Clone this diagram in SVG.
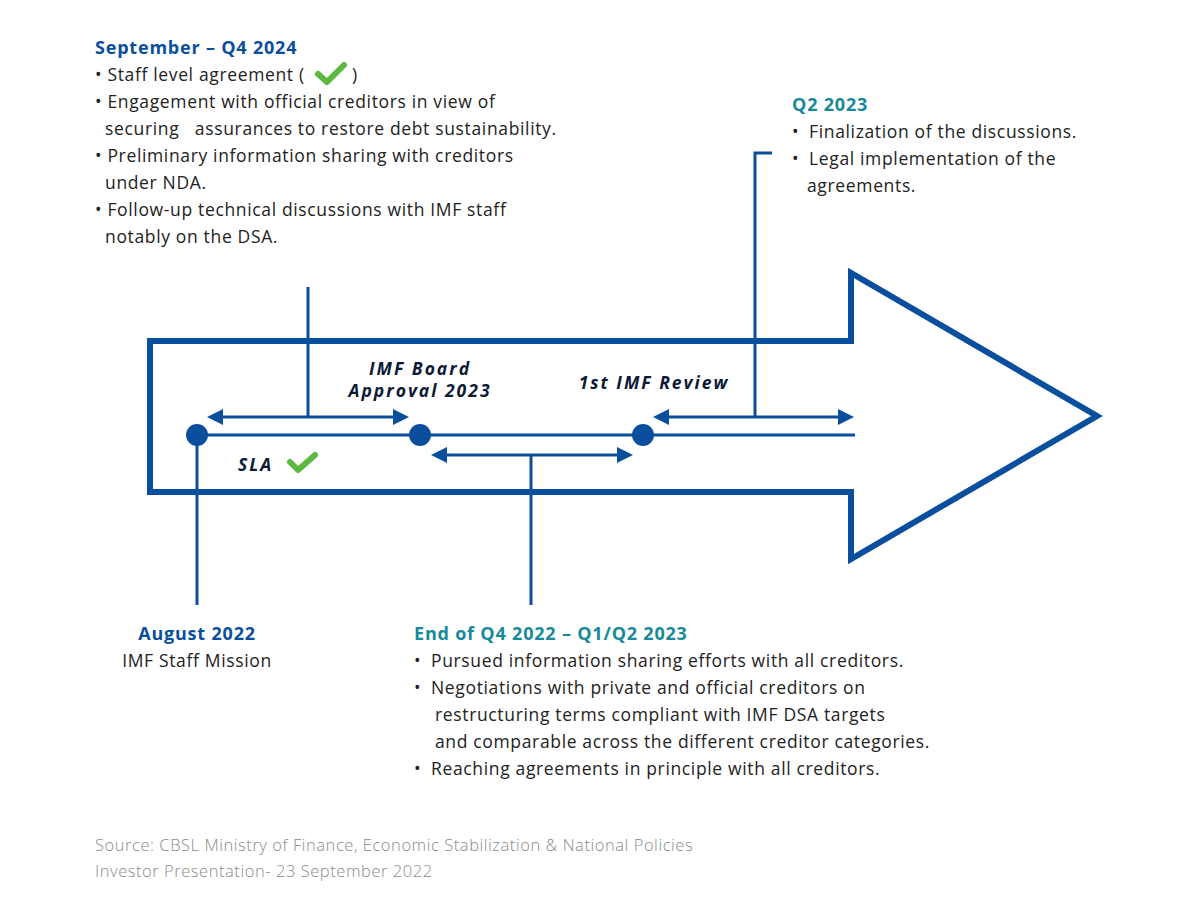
<svg xmlns="http://www.w3.org/2000/svg" width="1200" height="900" viewBox="0 0 1200 900">
<defs>
<style>
.bg{fill:#ffffff}
.ol{fill:none;stroke:#0a4f9e;stroke-width:6;stroke-linejoin:miter}
.ln{fill:none;stroke:#0a4f9e;stroke-width:3}
.dot{fill:#0a4f9e}
.ah{fill:#0a4f9e}
.chk{fill:none;stroke:#5db83f;stroke-width:6;stroke-linecap:round;stroke-linejoin:round}
.h1{font-family:"Open Sans","Liberation Sans",sans-serif;font-weight:700;font-size:18px;letter-spacing:0.8px;fill:#0a4f9e}
.h2{font-family:"Open Sans","Liberation Sans",sans-serif;font-weight:700;font-size:18px;letter-spacing:0.8px;fill:#168a9a}
.tx{font-family:"Open Sans","Liberation Sans",sans-serif;font-size:17.5px;letter-spacing:0.65px;fill:#222222}
.lb{font-family:"Open Sans","Liberation Sans",sans-serif;font-weight:700;font-style:italic;font-size:17.5px;letter-spacing:2px;fill:#0d1a36}
.src{font-family:"Open Sans","Liberation Sans",sans-serif;font-weight:300;font-size:16.5px;letter-spacing:0.55px;fill:#8a8a8a}
</style>
</defs>
<rect class="bg" x="0" y="0" width="1200" height="900"/>
<g id="big-arrow">
<path class="ol" d="M150,341 L851,341 L851,273 L1097,416 L851,559 L851,492 L150,492 Z"/>
</g>
<g id="connectors">
<line class="ln" x1="197" y1="435" x2="855" y2="435"/>
<line class="ln" x1="197" y1="435" x2="197" y2="605"/>
<line class="ln" x1="220" y1="417" x2="396" y2="417"/>
<line class="ln" x1="308" y1="287" x2="308" y2="417"/>
<polygon class="ah" points="207,417 223,409 223,425"/>
<polygon class="ah" points="409,417 393,409 393,425"/>
<line class="ln" x1="444" y1="455" x2="620" y2="455"/>
<line class="ln" x1="531" y1="455" x2="531" y2="605"/>
<polygon class="ah" points="431,455 447,447 447,463"/>
<polygon class="ah" points="633,455 617,447 617,463"/>
<line class="ln" x1="666" y1="417" x2="841" y2="417"/>
<polyline class="ln" points="772,153 755,153 755,417"/>
<polygon class="ah" points="653,417 669,409 669,425"/>
<polygon class="ah" points="854,417 838,409 838,425"/>
</g>
<g id="node-aug2022">
<circle class="dot" cx="197" cy="435" r="11"/>
<text class="h1" x="197" y="640" text-anchor="middle">August 2022</text>
<text class="tx" x="197" y="667" text-anchor="middle">IMF Staff Mission</text>
</g>
<g id="node-board">
<circle class="dot" cx="420" cy="435" r="11"/>
<text class="lb" x="420" y="375" text-anchor="middle">IMF Board</text>
<text class="lb" x="420" y="397" text-anchor="middle">Approval 2023</text>
</g>
<g id="node-review">
<circle class="dot" cx="643" cy="435" r="11"/>
<text class="lb" x="654" y="389" text-anchor="middle">1st IMF Review</text>
</g>
<g id="node-sla">
<text class="lb" x="238" y="471">SLA</text>
<polyline class="chk" points="290,462 298,470 315,455"/>
</g>
<g id="node-sep2024">
<text class="h1" x="95" y="54">September – Q4 2024</text>
<text class="tx" x="95" y="81">• Staff level agreement (</text>
<polyline class="chk" points="318,74 327,82 344,65"/>
<text class="tx" x="352" y="81">)</text>
<text class="tx" x="95" y="108">• Engagement with official creditors in view of</text>
<text class="tx" x="105" y="135" xml:space="preserve">securing   assurances to restore debt sustainability.</text>
<text class="tx" x="95" y="162">• Preliminary information sharing with creditors</text>
<text class="tx" x="105" y="189">under NDA.</text>
<text class="tx" x="95" y="216">• Follow-up technical discussions with IMF staff</text>
<text class="tx" x="105" y="243">notably on the DSA.</text>
</g>
<g id="node-q22023">
<text class="h2" x="792" y="111">Q2 2023</text>
<text class="tx" x="792" y="138">•</text>
<text class="tx" x="809" y="138">Finalization of the discussions.</text>
<text class="tx" x="792" y="165">•</text>
<text class="tx" x="809" y="165">Legal implementation of the</text>
<text class="tx" x="807" y="192">agreements.</text>
</g>
<g id="node-q42022">
<text class="h2" x="414" y="640">End of Q4 2022 – Q1/Q2 2023</text>
<text class="tx" x="414" y="667">•</text>
<text class="tx" x="431" y="667">Pursued information sharing efforts with all creditors.</text>
<text class="tx" x="414" y="694">•</text>
<text class="tx" x="431" y="694">Negotiations with private and official creditors on</text>
<text class="tx" x="435" y="721">restructuring terms compliant with IMF DSA targets</text>
<text class="tx" x="435" y="748">and comparable across the different creditor categories.</text>
<text class="tx" x="414" y="775">•</text>
<text class="tx" x="431" y="775">Reaching agreements in principle with all creditors.</text>
</g>
<g id="source">
<text class="src" x="95" y="851">Source: CBSL Ministry of Finance, Economic Stabilization &amp; National Policies</text>
<text class="src" x="95" y="877">Investor Presentation- 23 September 2022</text>
</g>
</svg>
